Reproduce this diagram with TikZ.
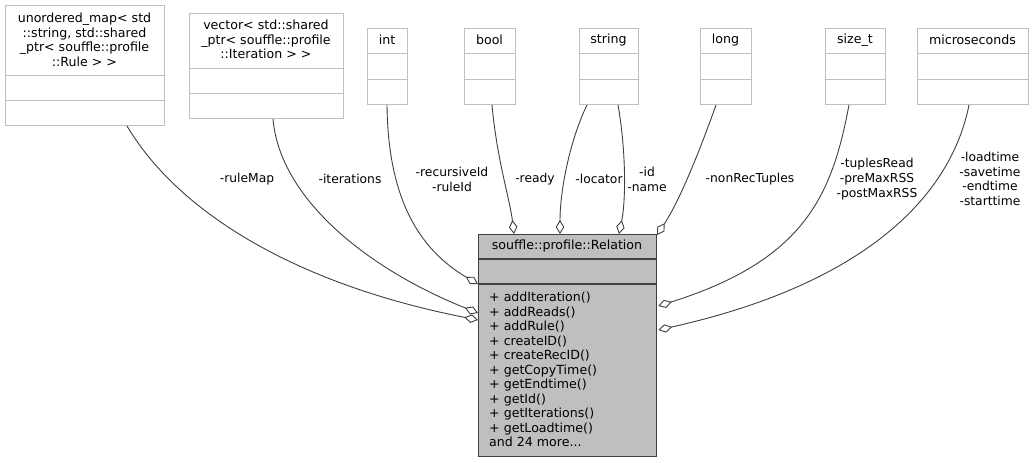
\documentclass[tikz,border=0pt]{standalone}
\usepackage{fontspec}
\setmainfont{DejaVu Sans}
\usetikzlibrary{arrows.meta,calc}
\definecolor{boxgray}{HTML}{BFBFBF}
\definecolor{edgegray}{HTML}{404040}
\tikzset{
  typebox/.style={draw=boxgray, line width=1pt, fill=white, inner sep=0pt, anchor=north west},
  mainbox/.style={draw=edgegray, line width=1.3pt, fill=boxgray, inner sep=0pt, anchor=north west},
  sepl/.style={draw=boxgray, line width=1pt},
  msepl/.style={draw=edgegray, line width=1.3pt},
  boxtext/.style={font=\fontsize{12.6}{14.5}\selectfont, align=center, inner sep=0pt},
  memtext/.style={font=\fontsize{12.6}{14.5}\selectfont, align=left, inner sep=0pt, anchor=west},
  lbl/.style={font=\fontsize{12.3}{14.8}\selectfont, align=center, inner sep=0pt},
  agg/.style={draw=edgegray, line width=0.9pt, -{Diamond[length=14pt,width=8.5pt,fill=white,line width=0.9pt]}}
}
\begin{document}
\begin{tikzpicture}[x=1pt,y=-1pt]
\useasboundingbox (0,0) rectangle (1034,463);
\fill[white] (0,0) rectangle (1034,463);

% type boxes
\node[typebox, minimum width=159pt, minimum height=120pt] (um) at (5,5) {};
\draw[sepl] (5,75) -- (164,75) (5,100) -- (164,100);
\node[boxtext] (umt) at (84.5,40) {unordered\_map< std\\::string, std::shared\\\_ptr< souffle::profile\\::Rule > >};

\node[typebox, minimum width=154pt, minimum height=105pt] (vec) at (189,13) {};
\draw[sepl] (189,68) -- (343,68) (189,93) -- (343,93);
\node[boxtext] (vect) at (266,39.5) {vector< std::shared\\\_ptr< souffle::profile\\::Iteration > >};

\node[typebox, minimum width=40pt, minimum height=76pt] (int) at (367,28) {};
\draw[sepl] (367,53) -- (407,53) (367,79) -- (407,79);
\node[boxtext] (intt) at (387,40) {int};

\node[typebox, minimum width=51pt, minimum height=76pt] (bool) at (464,28) {};
\draw[sepl] (464,53) -- (515,53) (464,79) -- (515,79);
\node[boxtext] (boolt) at (489.5,40) {bool};

\node[typebox, minimum width=59pt, minimum height=76pt] (str) at (579,28) {};
\draw[sepl] (579,53) -- (638,53) (579,79) -- (638,79);
\node[boxtext] (strt) at (608.5,40) {string};

\node[typebox, minimum width=51pt, minimum height=76pt] (long) at (700,28) {};
\draw[sepl] (700,53) -- (751,53) (700,79) -- (751,79);
\node[boxtext] (longt) at (725.5,40) {long};

\node[typebox, minimum width=60pt, minimum height=76pt] (sz) at (825,28) {};
\draw[sepl] (825,53) -- (885,53) (825,79) -- (885,79);
\node[boxtext] (szt) at (855,40) {size\_t};

\node[typebox, minimum width=111pt, minimum height=76pt] (mic) at (917,28) {};
\draw[sepl] (917,53) -- (1028,53) (917,79) -- (1028,79);
\node[boxtext] (mict) at (972.5,40) {microseconds};

% main class
\node[mainbox, minimum width=178pt, minimum height=222pt] (rel) at (478,234) {};
\draw[msepl] (478,259) -- (656,259) (478,284) -- (656,284);
\node[boxtext] (relt) at (567,246.5) {souffle::profile::Relation};
\node[memtext] (relm) at (489,369.5) {+ addIteration()\\+ addReads()\\+ addRule()\\+ createID()\\+ createRecID()\\+ getCopyTime()\\+ getEndtime()\\+ getId()\\+ getIterations()\\+ getLoadtime()\\and 24 more...};

% connector end points
\coordinate (a1) at ($(um.south west)+(122,0)$);
\coordinate (b1) at ($(rel.north west)+(0,86)$);
\coordinate (a2) at ($(vec.south west)+(84,0)$);
\coordinate (b2) at ($(rel.north west)+(0,79)$);
\coordinate (a3) at ($(int.south west)+(20,0)$);
\coordinate (b3) at ($(rel.north west)+(0,50)$);
\coordinate (a4) at ($(bool.south west)+(28,0)$);
\coordinate (b4) at ($(rel.north west)+(36,0)$);
\coordinate (a5) at ($(str.south west)+(8,0)$);
\coordinate (b5) at ($(rel.north west)+(82,0)$);
\coordinate (a6) at ($(str.south west)+(39,0)$);
\coordinate (b6) at ($(rel.north west)+(141,0)$);
\coordinate (a7) at ($(long.south west)+(16,0)$);
\coordinate (b7) at ($(rel.north west)+(179,1)$);
\coordinate (a8) at ($(sz.south west)+(24,0)$);
\coordinate (b8) at ($(rel.north east)+(1,72)$);
\coordinate (a9) at ($(mic.south west)+(52,0)$);
\coordinate (b9) at ($(rel.north east)+(1,96)$);

\draw[agg] (a1) .. controls (180,215) and (300,285) .. (b1);
\draw[agg] (a2) .. controls (280,200) and (370,270) .. (b2);
\draw[agg] (a3) .. controls (388,200) and (420,250) .. (b3);
\draw[agg] (a4) .. controls (497,160) and (510,200) .. (b4);
\draw[agg] (a5) .. controls (570,140) and (560,190) .. (b5);
\draw[agg] (a6) .. controls (626,150) and (626,200) .. (b6);
\draw[agg] (a7) .. controls (700,150) and (680,200) .. (b7);
\draw[agg] (a8) .. controls (832,195) and (805,260) .. (b8);
\draw[agg] (a9) .. controls (950,200) and (860,285) .. (b9);

% labels
\node[lbl] (l1) at (247,179) {-ruleMap};
\node[lbl] (l2) at (350,179) {-iterations};
\node[lbl] (l3) at (452,179.5) {-recursiveId\\-ruleId};
\node[lbl] (l4) at (535,179) {-ready};
\node[lbl] (l5) at (599,179) {-locator};
\node[lbl] (l6) at (647,179.5) {-id\\-name};
\node[lbl] (l7) at (750,179) {-nonRecTuples};
\node[lbl] (l8) at (877,179) {-tuplesRead\\-preMaxRSS\\-postMaxRSS};
\node[lbl] (l9) at (990,179) {-loadtime\\-savetime\\-endtime\\-starttime};
\end{tikzpicture}
\end{document}
